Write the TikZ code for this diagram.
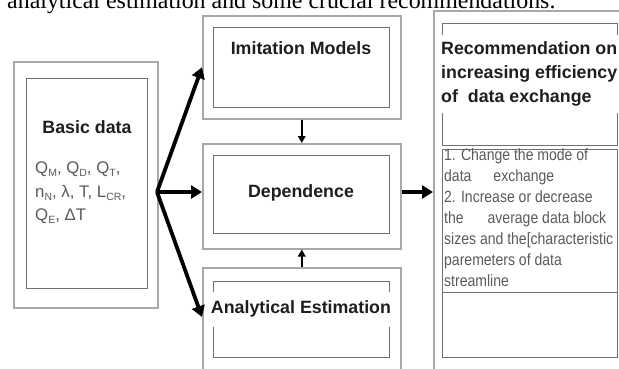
\documentclass[tikz,border=0pt]{standalone}
\usepackage{fontspec}
\setmainfont{Liberation Sans}
\newfontfamily\serifft{Liberation Serif}
\newfontfamily\narrowft{Liberation Sans}[FakeStretch=0.86]
\usetikzlibrary{arrows.meta}
\definecolor{outerline}{HTML}{A8A8A8}
\definecolor{innerline}{HTML}{707070}
\definecolor{bodytext}{HTML}{5A5A5A}
\definecolor{headtext}{HTML}{1E1E1E}
\newcommand{\lowidx}[1]{\raisebox{-2.5pt}{\fontsize{10.5}{10.5}\selectfont #1}}
\begin{document}
\begin{tikzpicture}[x=1pt,y=-1pt,
  outerbox/.style={draw=outerline, line width=1.5pt, inner sep=0pt, anchor=north west},
  innerbox/.style={draw=innerline, line width=1.2pt, inner sep=0pt, anchor=north west},
  headt/.style={font=\fontsize{17.8}{24}\selectfont\bfseries, text=headtext, inner sep=0pt},
  paramt/.style={font=\fontsize{16.8}{20}\selectfont, text=bodytext, inner sep=0pt, anchor=base west},
  bodyt/.style={font=\narrowft\fontsize{16.3}{21}\selectfont, text=bodytext, inner sep=0pt, anchor=base west},
  bigarrow/.style={line width=3.8pt, -{Triangle[length=11pt,width=13pt]}},
  smallarrow/.style={line width=1.8pt, -{Triangle[length=7pt,width=7.5pt]}}
]
\useasboundingbox (0,0) rectangle (619,368);
\clip (0,0) rectangle (619,368);

% caption fragment at top
\node[anchor=base west, inner sep=0pt, font=\serifft\fontsize{23.9}{28}\selectfont] (caption) at (7,8)
  {analytical estimation and some crucial recommendations.};

% left box
\node[outerbox, minimum width=144pt, minimum height=246pt] (leftout) at (13,61) {};
\node[innerbox, minimum width=121pt, minimum height=210pt] (leftin) at (26,78) {};
\node[headt] (basic) at (87,127) {Basic data};
\node[paramt] (par1) at (35,173.5) {Q\lowidx{M}, Q\lowidx{D}, Q\lowidx{T},};
\node[paramt] (par2) at (35,197.5) {n\lowidx{N}, λ, T, L\lowidx{CR},};
\node[paramt] (par3) at (35,220.5) {Q\lowidx{E}, ΔT};

% middle column
\node[outerbox, minimum width=198pt, minimum height=103pt] (topout) at (202,15) {};
\node[innerbox, minimum width=176pt, minimum height=80pt] (topin) at (213,27) {};
\node[headt] (imit) at (301,48) {Imitation Models};

\node[outerbox, minimum width=198pt, minimum height=105pt] (midout) at (202,143) {};
\node[innerbox, minimum width=176pt, minimum height=78pt] (midin) at (213,155) {};
\node[headt] (dep) at (301,193) {Dependence};

\node[outerbox, minimum width=198pt, minimum height=130pt] (botout) at (202,267) {};
\node[innerbox, minimum width=176pt, minimum height=76pt] (botin) at (213,281) {};
\node[headt, fill=white, minimum height=35pt, inner xsep=1pt] (anal) at (301,309) {Analytical Estimation};

% right column
\node[outerbox, minimum width=200pt, minimum height=380pt] (rightout) at (433,10) {};
\node[innerbox, minimum width=175pt, minimum height=122pt] (rtop) at (442,23) {};
\node[innerbox, minimum width=175pt, minimum height=143pt] (rtext) at (442,149) {};
\node[innerbox, minimum width=175pt, minimum height=65pt] (rlow) at (442,292) {};
\node[headt, fill=white, anchor=west, align=left, inner xsep=1pt, inner ysep=7pt] (rec) at (440,74)
  {Recommendation on\\increasing efficiency\\of\ \ data exchange};

\node[bodyt] (l1) at (444,160) {1. Change the mode of};
\node[bodyt] (l2) at (444,181) {data\hspace{22pt}exchange};
\node[bodyt] (l3) at (444,202) {2. Increase or decrease};
\node[bodyt] (l4) at (444,223) {the\hspace{24pt}average data block};
\node[bodyt] (l5) at (444,244) {sizes and the[characteristic};
\node[bodyt] (l6) at (444,265) {paremeters of data};
\node[bodyt] (l7) at (444,286) {streamline};

% connectors
\coordinate (src) at (157,192);
\coordinate (bottip) at (202,317);
\draw[bigarrow] (src) -- (topout.west);
\draw[bigarrow] (src) -- (src -| midout.west);
\draw[bigarrow] (src) -- (bottip);
\draw[bigarrow] (midout.east |- src) -- (rightout.west |- src);
\draw[smallarrow] (topout.south) -- (midout.north);
\draw[smallarrow] (botout.north) -- (midout.south);
\end{tikzpicture}
\end{document}
